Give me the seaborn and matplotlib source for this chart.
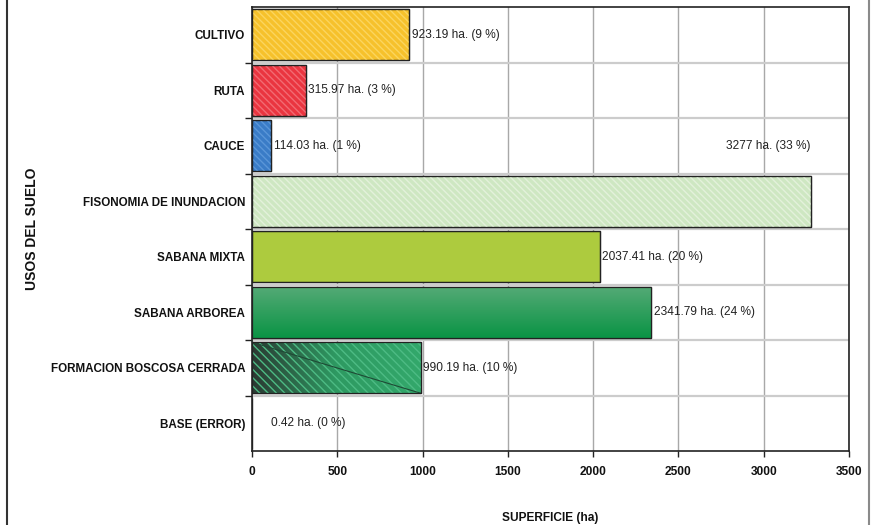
import numpy as np
import matplotlib
matplotlib.use("Agg")
import matplotlib.pyplot as plt
import seaborn as sns
from matplotlib.lines import Line2D

categories = ["CULTIVO", "RUTA", "CAUCE", "FISONOMIA DE INUNDACION", "SABANA MIXTA",
              "SABANA ARBOREA", "FORMACION BOSCOSA CERRADA", "BASE (ERROR)"]
areas = [923.19, 315.97, 114.03, 3277, 2037.41, 2341.79, 990.19, 0.42]
percents = [9, 3, 1, 33, 20, 24, 10, 0]
value_labels = ["923.19 ha. (9 %)", "315.97 ha. (3 %)", "114.03 ha. (1 %)", "3277 ha. (33 %)",
                "2037.41 ha. (20 %)", "2341.79 ha. (24 %)", "990.19 ha. (10 %)", "0.42 ha. (0 %)"]
xticks = [0, 500, 1000, 1500, 2000, 2500, 3000, 3500]
colors = ["#F6C12B", "#EA3540", "#3A7CC7", "#CEE7C2", "#ADCB3E", "#2E9E5B", "#2A8A5C", "#FFFFFF"]

sns.set_theme(style="white")
plt.rcParams["font.family"] = ["Liberation Sans", "DejaVu Sans"]

fig = plt.figure(figsize=(8.74, 5.25), dpi=100)
ax = fig.add_axes([252 / 874, 1 - 451 / 525, 597 / 874, 444 / 525])

sns.barplot(x=areas, y=categories, hue=categories, palette=colors, legend=False, saturation=1,
            orient="h", width=0.92, edgecolor="#222222", linewidth=0.9, ax=ax, zorder=3)

patches = [p for p in ax.patches]
for i, p in enumerate(patches):
    x0, y0, w, h = p.get_x(), p.get_y(), p.get_width(), p.get_height()
    if categories[i] in ("CULTIVO", "RUTA", "FISONOMIA DE INUNDACION", "CAUCE"):
        hc = {"CULTIVO": "#FBD55E", "RUTA": "#F26A72", "CAUCE": "#5A96D8",
              "FISONOMIA DE INUNDACION": "#E3F1DB"}[categories[i]]
        ax.barh(y0 + h / 2, w, height=h, left=x0, facecolor="none", edgecolor=hc,
                linewidth=0, hatch="\\\\\\\\\\", zorder=3.5)
    elif categories[i] == "SABANA ARBOREA":
        grad = np.linspace(0, 1, 100).reshape(-1, 1)
        cmap = matplotlib.colors.LinearSegmentedColormap.from_list("g", ["#55AA76", "#0A9445"])
        im = ax.imshow(grad, cmap=cmap, aspect="auto", extent=(x0, x0 + w, y0 + h, y0),
                       zorder=3.2, interpolation="bilinear")
        im.set_clip_path(p)
    elif categories[i] == "FORMACION BOSCOSA CERRADA":
        grad = np.linspace(0, 1, 100).reshape(1, -1)
        cmap = matplotlib.colors.LinearSegmentedColormap.from_list("f", ["#2B3A33", "#2E9A62", "#33A86B"])
        im = ax.imshow(grad, cmap=cmap, aspect="auto", extent=(x0, x0 + w, y0 + h, y0),
                       zorder=3.2, interpolation="bilinear")
        im.set_clip_path(p)
        ax.barh(y0 + h / 2, w, height=h, left=x0, facecolor="none", edgecolor="#4DBB84",
                linewidth=0, hatch="\\\\\\\\", zorder=3.5)
        ax.plot([x0, x0 + w], [y0, y0 + h], color="#1E4A35", lw=0.8, zorder=3.6)
    if categories[i] != "BASE (ERROR)":
        ax.add_patch(matplotlib.patches.Rectangle((x0, y0), w, h, fill=False,
                                                  edgecolor="#222222", lw=0.9, zorder=4))

for i, (v, lab) in enumerate(zip(areas, value_labels)):
    if categories[i] == "FISONOMIA DE INUNDACION":
        ax.text(2779, i - 1, lab, ha="left", va="center", fontsize=8.6, color="#222222", zorder=5)
    elif categories[i] == "BASE (ERROR)":
        ax.annotate(lab, xy=(v, i), xytext=(19, 0), textcoords="offset pixels",
                    ha="left", va="center", fontsize=8.6, color="#222222", zorder=5)
    else:
        ax.annotate(lab, xy=(v, i), xytext=(2.5, 0), textcoords="offset pixels",
                    ha="left", va="center", fontsize=8.6, color="#222222", zorder=5)

ax.set_xlim(0, 3500)
ax.set_ylim(len(categories) - 0.5, -0.5)
ax.set_xticks(xticks)
ax.set_xticklabels([str(t) for t in xticks], fontweight="bold", fontsize=8.6)
ax.set_yticks(range(len(categories)))
ax.set_yticklabels(categories, fontweight="bold", fontsize=8.4)
ax.set_yticks(np.arange(0.5, len(categories) - 1, 1), minor=True)
ax.tick_params(axis="y", which="major", length=0, pad=5, colors="#111111")
ax.tick_params(axis="y", which="minor", length=5, width=1, color="#222222", left=True)
ax.tick_params(axis="x", which="major", length=4, width=1, color="#222222", bottom=True,
               pad=7, colors="#111111")
ax.grid(axis="x", which="major", color="#A8A8A8", lw=1, zorder=0)
ax.grid(axis="y", which="minor", color="#CCCCCC", lw=1.6, zorder=0)
ax.grid(axis="y", which="major", visible=False)
ax.set_axisbelow(True)
for s in ax.spines.values():
    s.set_visible(True)
    s.set_color("#222222")
    s.set_linewidth(1.2)

ax.set_xlabel("SUPERFICIE (ha)", fontweight="bold", fontsize=8.6, labelpad=24, color="#111111")
fig.text(32 / 874, 1 - 229 / 525, "USOS DEL SUELO", rotation=90, ha="center", va="center",
         fontweight="bold", fontsize=10, color="#111111")

fig.add_artist(Line2D([7 / 874, 7 / 874], [0, 1], transform=fig.transFigure, color="#333333", lw=1.5))
fig.add_artist(Line2D([869 / 874, 869 / 874], [0, 1], transform=fig.transFigure, color="#8A8A8A", lw=1.5))

fig.savefig("out.png", dpi=100)
